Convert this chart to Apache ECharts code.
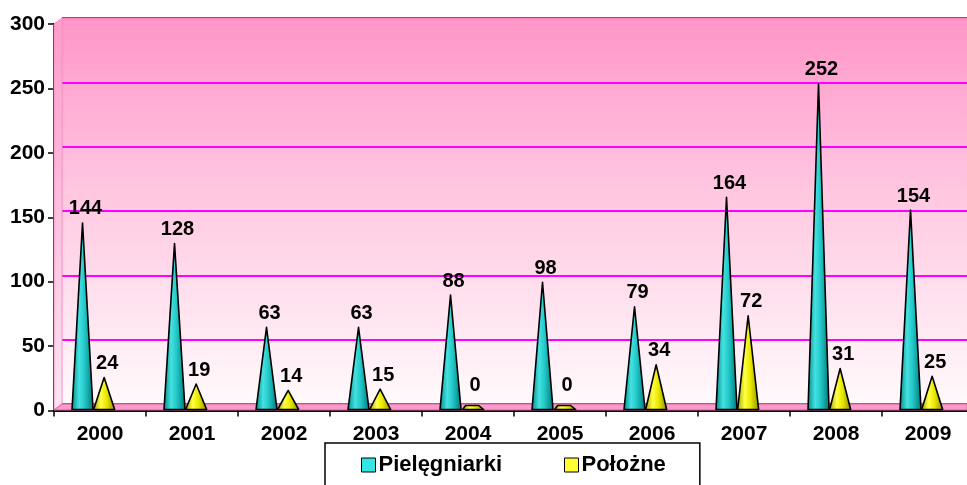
<!DOCTYPE html>
<html>
<head>
<meta charset="utf-8">
<script src="https://cdn.jsdelivr.net/npm/echarts@6/dist/echarts.min.js"></script>
<style>
html,body{margin:0;padding:0;background:#fff;}
#main{width:967px;height:485px;}
</style>
</head>
<body>
<div id="main"></div>
<script>
// ---- data ----
const categories = ['2000','2001','2002','2003','2004','2005','2006','2007','2008','2009'];
const seriesNames = ['Pielęgniarki', 'Położne'];
const pielegniarki = [144, 128, 63, 63, 88, 98, 79, 164, 252, 154];
const polozne = [24, 19, 14, 15, 0, 0, 34, 72, 31, 25];
const yTicks = { min: 0, max: 300, interval: 50 };

const FONT = '"Liberation Sans", Arial, sans-serif';
function cyanGrad() {
  return new echarts.graphic.LinearGradient(0, 0, 1, 0, [
    { offset: 0, color: '#008587' },
    { offset: 0.35, color: '#44e2e2' },
    { offset: 0.6, color: '#22c6c6' },
    { offset: 1, color: '#007375' }
  ]);
}
function yellowGrad() {
  return new echarts.graphic.LinearGradient(0, 0, 1, 0, [
    { offset: 0, color: '#a0a000' },
    { offset: 0.35, color: '#ffff44' },
    { offset: 0.6, color: '#e8e800' },
    { offset: 1, color: '#8c8c00' }
  ]);
}

const chart = echarts.init(document.getElementById('main'), null, { renderer: 'canvas' });

// cone drawn from the value through the axes
function coneSeries(name, data, fillFn, centerFrac, legendColor) {
  return {
    name: name,
    type: 'custom',
    xAxisIndex: 1, yAxisIndex: 1,
    data: data.map((v, i) => [i, v]),
    encode: { x: 0, y: 1 },
    itemStyle: { color: legendColor },
    z: 5,
    renderItem: function (params, api) {
      const idx = api.value(0), v = api.value(1);
      const base = api.coord([idx, 0]);
      const top = api.coord([idx, v]);
      const bw = api.size([1, 0])[0];
      const cx = base[0] - bw / 2 + bw * centerFrac;
      const hw = 10.5;
      const by = base[1] - 1;
      let ty = top[1] - 2;
      let shape;
      if (by - ty < 4) {
        ty = by - 4;
        shape = [[cx - hw + 1, by], [cx - hw + 4, ty], [cx + hw - 4, ty], [cx + hw + 1, by]];
      } else {
        shape = [[cx - hw, by], [cx, ty], [cx + hw, by]];
      }
      return {
        type: 'group',
        children: [
          {
            type: 'polygon',
            shape: { points: shape },
            style: { fill: fillFn(), stroke: '#000', lineWidth: 1.6, lineJoin: 'round' }
          },
          {
            type: 'text',
            x: cx + 3, y: (v === 0 ? by - 14 : ty - 4),
            style: {
              text: String(v), fill: '#000', font: 'bold 20px ' + FONT,
              align: 'center', verticalAlign: 'bottom'
            },
            z2: 10
          }
        ]
      };
    }
  };
}

const option = {
  backgroundColor: '#fff',
  animation: false,
  textStyle: { fontFamily: FONT },
  grid: [
    { // back wall
      left: 62, top: 18, width: 920, height: 386,
      outerBoundsMode: 'none', containLabel: false,
      show: true, borderWidth: 0,
      backgroundColor: new echarts.graphic.LinearGradient(0, 0, 0, 1, [
        { offset: 0, color: '#ff96c8' },
        { offset: 0.5, color: '#ffcce3' },
        { offset: 1, color: '#fffafc' }
      ])
    },
    { // main
      left: 54, top: 24, width: 920, height: 386.5,
      outerBoundsMode: 'none', containLabel: false
    }
  ],
  xAxis: [
    { gridIndex: 0, type: 'category', data: categories, show: false },
    {
      gridIndex: 1, type: 'category', data: categories,
      axisLine: { lineStyle: { color: '#000', width: 2 } },
      axisTick: { show: true, length: 6, lineStyle: { color: '#000', width: 1.5 } },
      axisLabel: { color: '#000', fontWeight: 'bold', fontSize: 21, fontFamily: FONT, margin: 13 }
    }
  ],
  yAxis: [
    {
      gridIndex: 0, type: 'value', min: yTicks.min, max: yTicks.max, interval: yTicks.interval,
      axisLine: { show: false }, axisTick: { show: false }, axisLabel: { show: false },
      splitLine: { show: true, lineStyle: { color: '#ff00ff', width: 2 } }
    },
    {
      gridIndex: 1, type: 'value', min: yTicks.min, max: yTicks.max, interval: yTicks.interval,
      axisLine: { show: true, lineStyle: { color: '#000', width: 2 } },
      axisTick: { show: true, length: 6, lineStyle: { color: '#000', width: 1.5 } },
      axisLabel: { color: '#000', fontWeight: 'bold', fontSize: 21, fontFamily: FONT, margin: 9 },
      splitLine: { show: false }
    }
  ],
  legend: {
    left: 325, top: 443,
    padding: [11, 34, 30, 36],
    borderColor: '#000', borderWidth: 1.5, borderRadius: 0,
    backgroundColor: '#fff',
    itemWidth: 14, itemHeight: 14, itemGap: 62,
    textStyle: { color: '#000', fontWeight: 'bold', fontSize: 22, fontFamily: FONT, padding: [0, 0, 0, -2] },
    data: [
      { name: seriesNames[0], icon: 'rect', itemStyle: { color: '#33e6e6', borderColor: '#000', borderWidth: 1 } },
      { name: seriesNames[1], icon: 'rect', itemStyle: { color: '#ffff33', borderColor: '#000', borderWidth: 1 } }
    ]
  },
  graphic: [
    { type: 'polygon', z: 1, shape: { points: [[54, 24], [62, 18], [62, 404], [54, 410]] },
      style: { fill: new echarts.graphic.LinearGradient(0, 0, 0, 1, [
        { offset: 0, color: '#ff9ccb' }, { offset: 1, color: '#ffe6f2' }]), stroke: '#ff88c4', lineWidth: 1 } },
    { type: 'polygon', z: 1, shape: { points: [[54, 410], [62, 404], [967, 404], [967, 410]] },
      style: { fill: '#ff99cc', stroke: '#d0689c', lineWidth: 1 } },
    { type: 'line', z: 1, shape: { x1: 62, y1: 18.5, x2: 967, y2: 18.5 },
      style: { stroke: '#ff80c0', lineWidth: 1 } }
  ],
  series: [
    coneSeries(seriesNames[0], pielegniarki, cyanGrad, 0.31, '#33e6e6'),
    coneSeries(seriesNames[1], polozne, yellowGrad, 0.545, '#ffff33')
  ]
};
chart.setOption(option);
</script>
</body>
</html>
